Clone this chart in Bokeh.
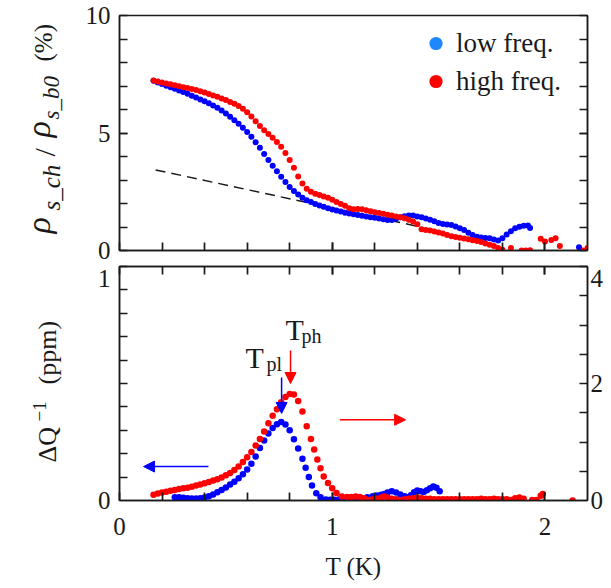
from bokeh.plotting import figure
from bokeh.models import (Range1d, LinearAxis, FixedTicker, Label, Arrow, NormalHead,
                          Legend, LegendItem, CustomJSTickFormatter)
from bokeh.layouts import column, row
from bokeh.embed import file_html
from bokeh.resources import INLINE

NAN = float("nan")

# ---------------- data ----------------
top_high_T = [0.16, 0.18, 0.20, 0.22, 0.24, 0.26, 0.28, 0.30, 0.32, 0.34, 0.36, 0.38, 0.40, 0.42,
              0.44, 0.46, 0.48, 0.50, 0.52, 0.54, 0.56, 0.58, 0.60, 0.62, 0.64, 0.66, 0.68, 0.70,
              0.72, 0.74, 0.76, 0.78, 0.80, 0.82, 0.84, 0.86, 0.88, 0.90, 0.92, 0.94, 0.96, 0.98,
              1.00, 1.02, 1.04, 1.06, 1.08, 1.10, 1.12, 1.14, 1.16, 1.18, 1.20, 1.22, 1.24, 1.26,
              1.28, 1.30, 1.32, 1.34, 1.36, 1.38, 1.40, 1.42, 1.44, 1.46, 1.48, 1.50, 1.52, 1.54,
              1.56, 1.58, 1.60, 1.62, 1.64, 1.66, 1.68, 1.70, 1.72, 1.74, 1.76, 1.78, 1.80, 1.84,
              1.89, 1.91, 1.93, 1.98, 2.00, 2.03, 2.05, 2.07, 2.18, 2.20]
top_high_rho = [7.23, 7.19, 7.15, 7.11, 7.07, 7.03, 6.99, 6.95, 6.91, 6.87, 6.83, 6.78, 6.72, 6.66,
                6.60, 6.54, 6.47, 6.40, 6.32, 6.24, 6.15, 6.03, 5.88, 5.70, 5.50, 5.30, 5.12, 4.96,
                4.80, 4.62, 4.42, 4.15, 3.85, 3.52, 3.15, 2.85, 2.63, 2.50, 2.42, 2.36, 2.30, 2.24,
                2.16, 2.06, 1.98, 1.90, 1.80, 1.76, 1.77, 1.76, 1.71, 1.67, 1.63, 1.60, 1.56, 1.52,
                1.49, 1.45, 1.42, 1.37, 1.31, 1.23, 1.12, 0.90, 0.87, 0.85, 0.81, 0.77, 0.72, 0.66,
                0.61, 0.57, 0.54, 0.51, 0.48, 0.44, 0.40, 0.36, 0.30, 0.25, 0.19, 0.11, 0.03, 0.11,
                0.00, 0.00, 0.01, 0.50, 0.38, 0.45, 0.52, 0.19, 0.00, 0.11]

top_low_T = [0.16, 0.18, 0.20, 0.22, 0.24, 0.26, 0.28, 0.30, 0.32, 0.34, 0.36, 0.38, 0.40, 0.42,
             0.44, 0.46, 0.48, 0.50, 0.52, 0.54, 0.56, 0.58, 0.60, 0.62, 0.64, 0.66, 0.68, 0.70,
             0.72, 0.74, 0.76, 0.78, 0.80, 0.82, 0.84, 0.86, 0.88, 0.90, 0.92, 0.94, 0.96, 0.98,
             1.00, 1.02, 1.04, 1.06, 1.08, 1.10, 1.12, 1.14, 1.16, 1.18, 1.20, 1.22, 1.24, 1.26,
             1.28, 1.30, 1.32, 1.34, 1.36, 1.38, 1.40, 1.42, 1.44, 1.46, 1.48, 1.50, 1.52, 1.54,
             1.56, 1.58, 1.60, 1.62, 1.64, 1.66, 1.68, 1.70, 1.72, 1.74, 1.76, 1.78, 1.80, 1.82,
             1.84, 1.86, 1.88, 1.90, 1.92, 1.93, 2.16]
top_low_rho = [7.22, 7.15, 7.08, 7.01, 6.95, 6.88, 6.81, 6.74, 6.67, 6.59, 6.51, 6.43, 6.35, 6.27,
               6.17, 6.07, 5.96, 5.83, 5.69, 5.54, 5.39, 5.22, 5.04, 4.84, 4.61, 4.37, 4.11, 3.85,
               3.61, 3.37, 3.14, 2.92, 2.70, 2.53, 2.38, 2.24, 2.14, 2.06, 1.98, 1.92, 1.86, 1.80,
               1.75, 1.70, 1.66, 1.61, 1.57, 1.54, 1.51, 1.48, 1.45, 1.42, 1.39, 1.36, 1.33, 1.30,
               1.30, 1.35, 1.42, 1.46, 1.49, 1.49, 1.45, 1.41, 1.36, 1.31, 1.24, 1.17, 1.13, 1.11,
               1.09, 1.02, 0.95, 0.87, 0.76, 0.66, 0.58, 0.55, 0.53, 0.52, 0.47, 0.43, 0.52, 0.68,
               0.82, 0.95, 1.01, 1.05, 1.06, 0.96, 0.14]

dash_T = [0.17, 1.40]
dash_rho = [3.43, 1.03]

bot_low_T = [0.26, 0.28, 0.30, 0.32, 0.34, 0.36, 0.38, 0.40, 0.42, 0.44, 0.46, 0.48, 0.50, 0.52,
             0.54, 0.56, 0.58, 0.60, 0.62, 0.64, 0.66, 0.68, 0.70, 0.72, 0.74, 0.76, 0.78, 0.80,
             0.82, 0.84, 0.86, 0.875, 0.89, 0.905, 0.925, 0.945, 0.97, 0.99, 1.01, 1.03, 1.05,
             1.07, 1.09, 1.115, 1.14, 1.165, 1.19, 1.21, 1.23, 1.245, 1.26, 1.28, 1.30, 1.32,
             1.34, 1.355, 1.37, 1.385, 1.40, 1.415, 1.43, 1.445, 1.46, 1.475, 1.49, 1.505]
bot_low_Q = [0.014, 0.014, 0.012, 0.010, 0.009, 0.009, 0.010, 0.013, 0.018, 0.026, 0.035, 0.045,
             0.056, 0.068, 0.080, 0.095, 0.112, 0.132, 0.157, 0.188, 0.224, 0.256, 0.286, 0.310,
             0.326, 0.335, 0.325, 0.300, 0.262, 0.222, 0.178, 0.140, 0.100, 0.064, 0.031, 0.014,
             0.004, 0.003, 0.003, 0.004, 0.004, 0.005, 0.006, 0.007, 0.010, 0.014, 0.018, 0.021,
             0.025, 0.028, 0.034, 0.040, 0.034, 0.026, 0.018, 0.014, 0.022, 0.035, 0.043, 0.040,
             0.036, 0.044, 0.052, 0.060, 0.054, 0.040]

bot_high_T = [0.16, 0.18, 0.20, 0.22, 0.24, 0.26, 0.28, 0.30, 0.32, 0.34, 0.36, 0.38, 0.40, 0.42,
              0.44, 0.46, 0.48, 0.50, 0.52, 0.54, 0.56, 0.58, 0.60, 0.62, 0.64, 0.66, 0.68, 0.70,
              0.72, 0.74, 0.76, 0.78, 0.80, 0.82, 0.84, 0.86, 0.88, 0.90, 0.915, 0.93, 0.945, 0.96,
              0.98, 1.00, 1.02, 1.045, 1.07, 1.09, 1.11, 1.13, 1.15, 1.165, 1.19, 1.21, 1.23, 1.245,
              1.26, 1.28, 1.30, 1.32, 1.34, 1.36, 1.38, 1.40, 1.42, 1.44, 1.46, 1.48, 1.50, 1.52,
              1.54, 1.56, 1.58, 1.60, 1.62, 1.64, 1.66, 1.68, 1.70, 1.72, 1.74, 1.76, 1.78, 1.80,
              1.82, 1.84, 1.86, 1.88, 1.90, 1.94, 1.96, 1.98, 1.99, 2.13]
bot_high_R = [0.10, 0.12, 0.135, 0.15, 0.165, 0.18, 0.195, 0.21, 0.22, 0.235, 0.255, 0.275, 0.295,
              0.315, 0.34, 0.365, 0.395, 0.43, 0.47, 0.52, 0.58, 0.66, 0.74, 0.83, 0.94, 1.05, 1.18,
              1.32, 1.45, 1.56, 1.68, 1.77, 1.82, 1.81, 1.70, 1.52, 1.27, 1.05, 0.87, 0.70, 0.55,
              0.41, 0.30, 0.21, 0.13, 0.07, 0.06, 0.06, 0.07, 0.06, 0.04, 0.01, 0.02, 0.03, 0.05,
              0.07, 0.05, 0.03, 0.02, 0.00, 0.02, 0.03, 0.04, 0.05, 0.04, 0.03, 0.03, 0.02, 0.02,
              0.02, 0.02, 0.02, 0.02, 0.02, 0.02, 0.02, 0.02, 0.02, 0.03, 0.02, 0.02, 0.03, 0.02,
              0.02, 0.02, 0.01, 0.04, 0.05, 0.03, 0.01, 0.01, 0.08, 0.11, 0.00]

x_ticks = [0, 1, 2]
x_minor = [0.2, 0.4, 0.6, 0.8, 1.0, 1.2, 1.4, 1.6, 1.8, 2.0]
top_y_ticks = [0, 5, 10]
top_y_minor = [1, 2, 3, 4, 5, 6, 7, 8, 9]
bot_left_ticks = [0, 1]
bot_left_minor = [0.1, 0.2, 0.3, 0.4, 0.5, 0.6, 0.7, 0.8, 0.9, 1.0]
bot_right_ticks = [0, 2, 4]
bot_right_minor = [0.5, 1.0, 1.5, 2.0, 2.5, 3.0, 3.5, 4.0]
legend_labels = ["low freq.", "high freq."]

# ---------------- style / geometry ----------------
RED = "#ff0000"
BLUE = "#0000ff"
LEG_BLUE = "#1e86ff"
INK = "#1a1a1a"
FONT = "Liberation Serif"
X0, X1 = 0.0, 2.2
TICK = 8               # px, inward ticks
TICK_W = 1.7
LW = 1.5
LABEL_W = 70           # width of the strip holding the rotated y titles
HIDE = "return ''"


def style_axis(ax, standoff=9, major_in=TICK, labels=True):
    ax.axis_line_color = INK
    ax.axis_line_width = LW
    ax.major_tick_in = major_in
    ax.major_tick_out = 0
    ax.minor_tick_in = TICK
    ax.minor_tick_out = 0
    ax.major_tick_line_color = INK
    ax.minor_tick_line_color = INK
    ax.major_tick_line_width = TICK_W
    ax.minor_tick_line_width = TICK_W
    ax.major_label_text_font = FONT
    ax.major_label_text_font_size = "25px"
    ax.major_label_text_color = INK
    ax.major_label_standoff = standoff
    if not labels:
        ax.formatter = CustomJSTickFormatter(code=HIDE)
        ax.major_label_text_font_size = "1px"
        ax.major_label_standoff = 0


def make_fig(height, y_range, top, bottom):
    p = figure(width=611 - LABEL_W, height=height, x_range=Range1d(X0, X1), y_range=y_range,
               x_axis_location=None, y_axis_location=None,
               output_backend="svg", toolbar_location=None,
               min_border_left=119 - LABEL_W, min_border_right=24,
               min_border_top=top, min_border_bottom=bottom)
    p.grid.visible = False
    p.outline_line_color = INK
    p.outline_line_width = LW
    p.background_fill_color = "white"
    p.border_fill_color = "white"
    return p


def piece(p, x, y, text, size, style="normal", angle=90, color=INK):
    p.add_layout(Label(x=x, y=y, text=text, angle=angle, angle_units="deg",
                       text_font=FONT, text_font_size=size, text_font_style=style,
                       text_color=color, text_align="left", text_baseline="middle"))


# ---------------- top panel ----------------
p1 = make_fig(264, Range1d(0, 10), 15, 14)
ay = LinearAxis(ticker=FixedTicker(ticks=top_y_ticks, minor_ticks=top_y_minor))
style_axis(ay)
p1.add_layout(ay, "left")
ay_r = LinearAxis(ticker=FixedTicker(ticks=top_y_ticks, minor_ticks=top_y_minor))
style_axis(ay_r, labels=False)
p1.add_layout(ay_r, "right")
ax_b = LinearAxis(ticker=FixedTicker(ticks=x_ticks, minor_ticks=x_minor))
style_axis(ax_b, labels=False)
p1.add_layout(ax_b, "below")

p1.line(dash_T, dash_rho, line_color=INK, line_width=LW, line_dash="10 6")
p1.scatter(top_low_T, top_low_rho, size=6, fill_color=BLUE, line_color=None)
p1.scatter(top_high_T, top_high_rho, size=6, fill_color=RED, line_color=None)

r_leg_low = p1.scatter([NAN], [NAN], size=13, fill_color=LEG_BLUE, line_color=None)
r_leg_high = p1.scatter([NAN], [NAN], size=13, fill_color=RED, line_color=None)
legend = Legend(items=[LegendItem(label=legend_labels[0], renderers=[r_leg_low]),
                       LegendItem(label=legend_labels[1], renderers=[r_leg_high])],
                location=(300, 152), margin=0, padding=0, spacing=4,
                glyph_width=33, glyph_height=34, label_height=34,
                label_standoff=4, label_text_font=FONT, label_text_font_size="27px",
                label_text_color=INK, border_line_color=None, background_fill_alpha=0)
p1.add_layout(legend)

# ---------------- bottom panel ----------------
p2 = make_fig(324, Range1d(0, 1), 2, 88)
p2.extra_y_ranges = {"right": Range1d(0, 4)}

bx = LinearAxis(ticker=FixedTicker(ticks=x_ticks, minor_ticks=x_minor))
style_axis(bx, 17)
bx.axis_label = "T (K)"
bx.axis_label_text_font = FONT
bx.axis_label_text_font_size = "25px"
bx.axis_label_text_font_style = "normal"
bx.axis_label_text_color = INK
bx.axis_label_standoff = 15
p2.add_layout(bx, "below")
tx = LinearAxis(ticker=FixedTicker(ticks=x_ticks, minor_ticks=x_minor))
style_axis(tx, labels=False)
p2.add_layout(tx, "above")

# the top labels ("1" and "4") sit just below their ticks, as in the reference;
# the tick marks themselves come from the minor ticks at the true values
ly = LinearAxis(ticker=FixedTicker(ticks=[bot_left_ticks[0], 0.9487], minor_ticks=bot_left_minor),
                formatter=CustomJSTickFormatter(code="return tick > 0.5 ? '1' : '0'"))
style_axis(ly, major_in=0)
p2.add_layout(ly, "left")
ry = LinearAxis(y_range_name="right",
                ticker=FixedTicker(ticks=[bot_right_ticks[0], bot_right_ticks[1], 3.795],
                                   minor_ticks=bot_right_minor),
                formatter=CustomJSTickFormatter(code="return tick > 3 ? '4' : String(tick)"))
style_axis(ry, 3, major_in=0)
p2.add_layout(ry, "right")

p2.scatter(bot_low_T, bot_low_Q, size=6.5, fill_color=BLUE, line_color=None)
p2.scatter(bot_high_T, bot_high_R, size=6.5, fill_color=RED, line_color=None,
           y_range_name="right")


def arrow(x0, y0, x1, y1, color):
    p2.add_layout(Arrow(end=NormalHead(size=11, fill_color=color, line_color=color, line_width=1),
                        x_start=x0, y_start=y0, x_end=x1, y_end=y1,
                        line_color=color, line_width=LW))

arrow(0.804, 0.641, 0.804, 0.50, RED)
arrow(0.762, 0.526, 0.762, 0.372, BLUE)
arrow(0.418, 0.145, 0.113, 0.145, BLUE)
arrow(1.036, 0.345, 1.345, 0.345, RED)

piece(p2, 0.592, 0.611, "T", "30px", angle=0)
piece(p2, 0.691, 0.585, "pl", "20px", angle=0)
piece(p2, 0.780, 0.731, "T", "30px", angle=0)
piece(p2, 0.856, 0.701, "ph", "20px", angle=0)

# ---------------- strip with the rotated y titles ----------------
lab = figure(width=LABEL_W, height=588, x_range=Range1d(0, LABEL_W), y_range=Range1d(588, 0),
             x_axis_location=None, y_axis_location=None, output_backend="svg",
             toolbar_location=None, min_border=0)
lab.grid.visible = False
lab.outline_line_color = None
lab.background_fill_color = "white"
lab.border_fill_color = "white"

piece(lab, 38, 233, "ρ", "34px", "italic")
piece(lab, 51, 210, "s_ch", "25px", "italic")
piece(lab, 44, 156, "/", "30px")
piece(lab, 38, 137, "ρ", "34px", "italic")
piece(lab, 51, 119, "s_b0", "23px", "italic")
piece(lab, 43, 61, "(%)", "25px")
piece(lab, 47, 462, "ΔQ", "26px")
piece(lab, 39, 421, "−1", "19px")
piece(lab, 47, 384, "(ppm)", "26px")

layout = row(lab, column(p1, p2, spacing=0), spacing=0)
open("out.html", "w").write(file_html(layout, INLINE))
